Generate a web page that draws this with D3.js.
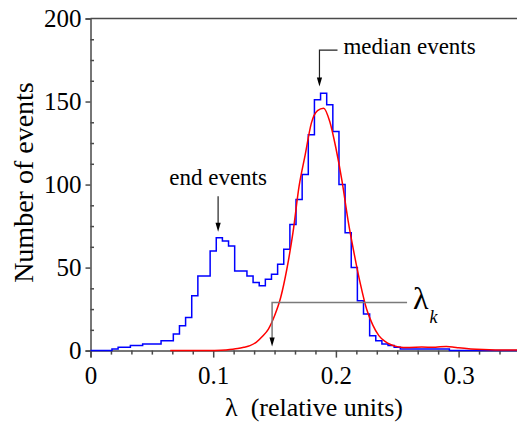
<!DOCTYPE html>
<html>
<head>
<meta charset="utf-8">
<script src="https://cdn.jsdelivr.net/npm/d3@7"></script>
<style>
	body { margin: 0; background: #fff; }
	svg, svg text, svg tspan { font-family: "Liberation Serif" !important; }
</style>
</head>
<body>
<div id="chart"></div>
<script>
"use strict";

// Axis ticks
const lambdaTicks = [0, 0.1, 0.2, 0.3];
const countTicks = [0, 50, 100, 150, 200];

// Histogram: bins of 0.005 centred on 0, 0.005, 0.01, ...
const binWidth = 0.005;
const histCounts = [
	0, 0, 0, 0, 1, 2, 2, 3, 3, 4,
	4, 4, 6, 6, 10, 15, 20, 33, 45, 45,
	60, 68, 66, 63, 48, 48, 45, 41, 39, 43,
	46, 52, 61, 76, 91, 106, 130, 151, 155, 148,
	132, 100, 71, 50, 30, 22, 9, 6, 4, 3,
	2, 1, 1, 1, 1, 1, 1, 1, 1, 0,
	0, 0, 0, 0, 0, 0, 0, 0, 0, 0, 0
];

// Fitted curve (red)
const fitLambda = [0.065, 0.09, 0.1, 0.11, 0.12, 0.125, 0.13, 0.135, 0.14, 0.145,
	0.15, 0.155, 0.16, 0.165, 0.17, 0.175, 0.18, 0.185, 0.19, 0.195,
	0.2, 0.205, 0.21, 0.215, 0.22, 0.225, 0.23, 0.235, 0.24, 0.245,
	0.25, 0.255, 0.26, 0.27, 0.28, 0.285, 0.29, 0.295, 0.3, 0.31,
	0.32, 0.33, 0.35];
const fitCounts = [0, 0, 0.1, 0.4, 1.2, 2, 3, 5, 8.5, 13,
	21, 32, 49, 71, 99, 118, 137, 144.5, 146, 138,
	122, 102, 78, 58, 40, 25, 15.5, 9, 5.5, 3.5,
	2.4, 1.9, 1.9, 2.1, 2, 2.3, 2.4, 2.2, 1.7, 1,
	0.6, 0.4, 0.3];

// Annotation anchors (data units)
const medianMark = { x: 0.1866, top: 181, tip: 159, elbow: 0.2013 };
const endMark = { x: 0.104, label: 100, top: 93, tip: 71.6 };
const kMark = { x: 0.148, level: 29, tip: 2.4, end: 0.258 };

const width = 517;
const height = 425;
const serif = "Liberation Serif";

const x = d3.scaleLinear().domain([0, 0.35]).range([90.5, 90.5 + 0.35 * 1227]);
const y = d3.scaleLinear().domain([0, 200]).range([350.6, 18.5]);

const svg = d3.select("#chart")
	.append("svg")
	.attr("width", width)
	.attr("height", height);

const axisColor = "#4a4a4a";

// top frame line
svg.append("line")
	.attr("x1", x(0)).attr("x2", x(0.35))
	.attr("y1", y(200)).attr("y2", y(200))
	.attr("stroke", axisColor).attr("stroke-width", 1.5);

// x axis, major
svg.append("g")
	.attr("transform", `translate(0,${y(0)})`)
	.call(d3.axisBottom(x)
		.tickValues(lambdaTicks)
		.tickSize(7)
		.tickPadding(9)
		.tickFormat(d => d === 0 ? "0" : d3.format(".1f")(d)));

// x axis, minor (6 intervals per 0.1)
const xMinor = d3.range(0, 22).map(i => i / 60).filter(v => Math.abs(v * 10 - Math.round(v * 10)) > 1e-6);
svg.append("g")
	.attr("transform", `translate(0,${y(0)})`)
	.call(d3.axisBottom(x).tickValues(xMinor).tickSize(4).tickFormat(""))
	.call(g => g.select(".domain").remove());

// y axis, major
svg.append("g")
	.attr("transform", `translate(${x(0)},0)`)
	.call(d3.axisLeft(y).tickValues(countTicks).tickSize(5).tickPadding(4));

// y axis, minor ticks point inward
const yMinor = d3.range(0, 17).map(i => i * 12.5).filter(v => v % 50 !== 0);
svg.append("g")
	.attr("transform", `translate(${x(0)},0)`)
	.call(d3.axisRight(y).tickValues(yMinor).tickSize(3.5).tickFormat(""))
	.call(g => g.select(".domain").remove());

svg.selectAll("g").attr("font-family", null).attr("font-size", null);
svg.selectAll(".domain, .tick line")
	.attr("stroke", axisColor)
	.attr("stroke-width", 1.5);
svg.selectAll(".tick text")
	.attr("font-size", 25)
	.attr("fill", "#000");

// histogram as a step line
const histPoints = histCounts.map((c, i) => [Math.max(0, i * binWidth - binWidth / 2), c]);
histPoints.push([Math.min(0.35, (histCounts.length - 1) * binWidth + binWidth / 2), histCounts[histCounts.length - 1]]);

const histLine = d3.line()
	.x(d => x(d[0]))
	.y(d => y(d[1]))
	.curve(d3.curveStepAfter);

svg.append("path")
	.datum(histPoints)
	.attr("d", histLine)
	.attr("fill", "none")
	.attr("stroke", "#0000ff")
	.attr("stroke-width", 1.5);

// fitted curve
const fitLine = d3.line()
	.x((d, i) => x(fitLambda[i]))
	.y(d => y(d))
	.curve(d3.curveMonotoneX);

svg.append("path")
	.datum(fitCounts)
	.attr("d", fitLine)
	.attr("fill", "none")
	.attr("stroke", "#ff0000")
	.attr("stroke-width", 1.5);

// small filled arrowhead pointing down at (px, py)
function arrowHead(px, py) {
	svg.append("path")
		.attr("d", `M${px - 2.6},${py - 9}L${px + 2.6},${py - 9}L${px},${py}Z`)
		.attr("fill", "#000");
}

// median events arrow
svg.append("path")
	.attr("d", `M${x(medianMark.elbow)},${y(medianMark.top)}H${x(medianMark.x)}V${y(medianMark.tip) - 8}`)
	.attr("fill", "none")
	.attr("stroke", "#222")
	.attr("stroke-width", 1.2);
arrowHead(x(medianMark.x), y(medianMark.tip));
svg.append("text")
	.attr("x", x(medianMark.elbow) + 6)
	.attr("y", y(medianMark.top) + 4)
	.attr("font-size", 23)
	.text("median events");

// end events arrow
svg.append("text")
	.attr("x", x(endMark.x))
	.attr("y", y(endMark.label))
	.attr("text-anchor", "middle")
	.attr("font-size", 23)
	.text("end events");
svg.append("line")
	.attr("x1", x(endMark.x)).attr("x2", x(endMark.x))
	.attr("y1", y(endMark.top)).attr("y2", y(endMark.tip) - 8)
	.attr("stroke", "#222")
	.attr("stroke-width", 1.2);
arrowHead(x(endMark.x), y(endMark.tip));

// lambda_k marker
svg.append("path")
	.attr("d", `M${x(kMark.end)},${y(kMark.level)}H${x(kMark.x)}V${y(kMark.tip) - 8}`)
	.attr("fill", "none")
	.attr("stroke", "#7a7a7a")
	.attr("stroke-width", 1.5);
arrowHead(x(kMark.x), y(kMark.tip));
const kLabel = svg.append("text")
	.attr("x", x(kMark.end) + 6)
	.attr("y", y(kMark.level) + 7)
	.attr("font-size", 32);
kLabel.append("tspan").text("λ");
kLabel.append("tspan")
	.attr("dy", 14)
	.attr("dx", 1)
	.attr("font-size", 18)
	.attr("font-style", "italic")
	.text("k");

// axis titles
svg.append("text")
	.attr("x", 314)
	.attr("y", 416)
	.attr("text-anchor", "middle")
	.attr("font-size", 26)
	.text("λ\u00a0\u00a0(relative units)");

svg.append("text")
	.attr("transform", `translate(33,${(y(0) + y(200)) / 2 - 2}) rotate(-90)`)
	.attr("text-anchor", "middle")
	.attr("font-size", 28)
	.text("Number of events");
</script>
</body>
</html>
